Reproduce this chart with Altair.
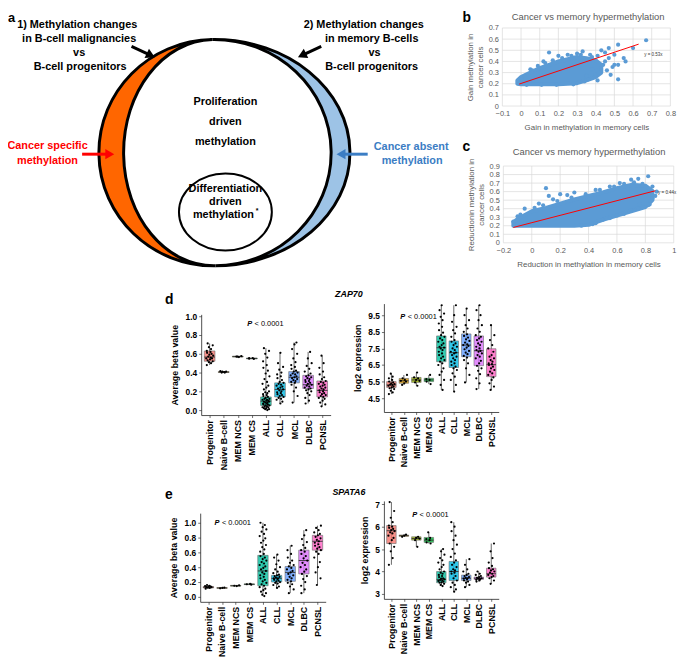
import altair as alt
import pandas as pd

# ---------------------------------------------------------------- data
CATS = ["Progenitor", "Naive B-cell", "MEM NCS", "MEM CS", "ALL", "CLL", "MCL", "DLBC", "PCNSL"]

# d (ZAP70) average beta value
D_BETA_Q1 = [0.52, 0.40, 0.565, 0.545, 0.05, 0.14, 0.29, 0.23, 0.14]
D_BETA_MED = [0.565, 0.405, 0.57, 0.55, 0.095, 0.22, 0.35, 0.27, 0.21]
D_BETA_Q3 = [0.63, 0.41, 0.575, 0.555, 0.14, 0.29, 0.41, 0.37, 0.31]
D_BETA_PTS = [
    [0.48, 0.50, 0.51, 0.52, 0.53, 0.54, 0.55, 0.55, 0.56, 0.57, 0.58, 0.59, 0.60, 0.61, 0.62, 0.63, 0.65, 0.67, 0.69, 0.71],
    [0.40, 0.405, 0.41, 0.415, 0.40, 0.41],
    [0.565, 0.57, 0.575, 0.57],
    [0.545, 0.55, 0.555, 0.55],
    [0.00, 0.01, 0.01, 0.02, 0.02, 0.03, 0.03, 0.04, 0.04, 0.05, 0.05, 0.06, 0.06, 0.07, 0.07, 0.08, 0.08, 0.09, 0.09,
     0.10, 0.10, 0.11, 0.11, 0.12, 0.12, 0.13, 0.14, 0.15, 0.16, 0.17, 0.18, 0.19, 0.20, 0.22, 0.24, 0.26, 0.28, 0.30,
     0.33, 0.36, 0.39, 0.42, 0.45, 0.48, 0.52, 0.56, 0.60, 0.63, 0.66],
    [0.07, 0.09, 0.11, 0.12, 0.13, 0.14, 0.15, 0.16, 0.17, 0.18, 0.19, 0.20, 0.21, 0.22, 0.23, 0.24, 0.25, 0.26, 0.27,
     0.28, 0.29, 0.30, 0.32, 0.34, 0.36, 0.38, 0.40, 0.43, 0.46, 0.50, 0.61],
    [0.08, 0.15, 0.20, 0.24, 0.27, 0.29, 0.30, 0.31, 0.32, 0.33, 0.34, 0.35, 0.36, 0.37, 0.38, 0.39, 0.40, 0.41, 0.42,
     0.44, 0.46, 0.48, 0.51, 0.55, 0.60, 0.65, 0.70, 0.72],
    [0.07, 0.10, 0.13, 0.16, 0.18, 0.20, 0.21, 0.22, 0.23, 0.24, 0.25, 0.26, 0.27, 0.28, 0.29, 0.30, 0.31, 0.32, 0.33,
     0.34, 0.35, 0.36, 0.37, 0.39, 0.41, 0.44, 0.47, 0.50, 0.55, 0.62],
    [0.04, 0.06, 0.08, 0.10, 0.12, 0.13, 0.14, 0.15, 0.16, 0.17, 0.18, 0.19, 0.20, 0.21, 0.22, 0.23, 0.24, 0.25, 0.26,
     0.27, 0.28, 0.29, 0.30, 0.31, 0.33, 0.35, 0.38, 0.41, 0.45, 0.50, 0.58],
]
# d (ZAP70) log2 expression
D_EXPR_Q1 = [5.15, 5.40, 5.45, 5.50, 6.70, 6.35, 7.00, 6.46, 5.80]
D_EXPR_MED = [5.30, 5.55, 5.60, 5.60, 7.54, 7.24, 7.70, 7.36, 6.52]
D_EXPR_Q3 = [5.50, 5.69, 5.75, 5.70, 8.25, 7.95, 8.37, 8.25, 7.48]
D_EXPR_PTS = [
    [4.75, 4.85, 4.95, 5.05, 5.10, 5.15, 5.20, 5.25, 5.30, 5.32, 5.35, 5.40, 5.45, 5.50, 5.60, 5.70, 5.80, 5.98],
    [5.30, 5.40, 5.50, 5.55, 5.60, 5.70, 5.90],
    [5.25, 5.45, 5.55, 5.60, 5.70, 5.75, 6.05],
    [5.35, 5.50, 5.60, 5.65, 5.90],
    [5.0, 5.3, 5.6, 5.9, 6.1, 6.3, 6.5, 6.6, 6.7, 6.8, 6.9, 7.0, 7.1, 7.2, 7.3, 7.4, 7.5, 7.55, 7.6, 7.7, 7.8, 7.9, 8.0,
     8.1, 8.2, 8.3, 8.45, 8.6, 8.8, 9.0, 9.2, 9.4, 9.6, 9.8, 10.1],
    [4.9, 5.3, 5.6, 5.8, 6.0, 6.2, 6.3, 6.4, 6.5, 6.6, 6.7, 6.8, 6.9, 7.0, 7.1, 7.2, 7.25, 7.3, 7.4, 7.5, 7.6, 7.7, 7.8,
     7.9, 8.0, 8.2, 8.4, 8.6, 8.8, 9.1, 9.5, 10.1],
    [5.45, 5.9, 6.3, 6.6, 6.8, 6.95, 7.05, 7.15, 7.25, 7.35, 7.45, 7.55, 7.65, 7.7, 7.75, 7.85, 7.95, 8.05, 8.15, 8.25,
     8.35, 8.5, 8.7, 8.9, 9.2, 9.5, 9.9],
    [5.05, 5.4, 5.7, 5.95, 6.15, 6.3, 6.45, 6.6, 6.75, 6.9, 7.0, 7.1, 7.2, 7.3, 7.35, 7.4, 7.5, 7.6, 7.7, 7.8, 7.9, 8.0,
     8.1, 8.2, 8.3, 8.5, 8.7, 8.9, 9.2, 9.5, 9.8, 10.1],
    [5.0, 5.2, 5.4, 5.6, 5.75, 5.9, 6.0, 6.1, 6.2, 6.3, 6.4, 6.5, 6.55, 6.6, 6.7, 6.8, 6.9, 7.0, 7.1, 7.3, 7.5, 7.7,
     8.0, 8.3, 8.9],
]
# e (SPATA6) average beta value
E_BETA_Q1 = [0.12, 0.115, 0.145, 0.165, 0.15, 0.20, 0.21, 0.31, 0.63]
E_BETA_MED = [0.13, 0.12, 0.15, 0.17, 0.35, 0.25, 0.33, 0.49, 0.75]
E_BETA_Q3 = [0.14, 0.125, 0.155, 0.175, 0.56, 0.29, 0.41, 0.63, 0.83]
E_BETA_PTS = [
    [0.11, 0.12, 0.125, 0.13, 0.13, 0.135, 0.14, 0.145, 0.15, 0.16],
    [0.115, 0.12, 0.125],
    [0.145, 0.15, 0.155],
    [0.165, 0.17, 0.175],
    [0.01, 0.03, 0.05, 0.07, 0.09, 0.11, 0.13, 0.15, 0.17, 0.19, 0.21, 0.23, 0.25, 0.27, 0.29, 0.31, 0.33, 0.35, 0.37,
     0.39, 0.41, 0.43, 0.45, 0.47, 0.49, 0.51, 0.53, 0.55, 0.58, 0.61, 0.64, 0.67, 0.70, 0.73, 0.76, 0.79, 0.82, 0.85,
     0.88, 0.91, 0.94, 0.97, 1.0],
    [0.12, 0.14, 0.16, 0.18, 0.19, 0.20, 0.21, 0.22, 0.23, 0.24, 0.25, 0.25, 0.26, 0.27, 0.28, 0.29, 0.30, 0.32, 0.34,
     0.37, 0.40, 0.44, 0.49, 0.53, 0.57],
    [0.05, 0.10, 0.14, 0.17, 0.19, 0.21, 0.23, 0.25, 0.27, 0.29, 0.31, 0.33, 0.35, 0.37, 0.39, 0.41, 0.43, 0.46, 0.49,
     0.53, 0.58, 0.63, 0.69],
    [0.05, 0.10, 0.15, 0.20, 0.24, 0.28, 0.31, 0.34, 0.37, 0.40, 0.43, 0.46, 0.49, 0.52, 0.55, 0.58, 0.61, 0.63, 0.66,
     0.70, 0.74, 0.78, 0.83, 0.90],
    [0.16, 0.25, 0.33, 0.40, 0.47, 0.53, 0.58, 0.61, 0.63, 0.65, 0.67, 0.69, 0.71, 0.73, 0.75, 0.77, 0.79, 0.81, 0.83,
     0.85, 0.87, 0.90, 0.93, 0.96],
]
# e (SPATA6) log2 expression
E_EXPR_Q1 = [5.25, 5.57, 5.40, 5.30, 3.50, 3.60, 3.60, 3.65, 3.75]
E_EXPR_MED = [5.82, 5.60, 5.47, 5.40, 3.65, 4.00, 3.70, 3.70, 3.90]
E_EXPR_Q3 = [6.05, 5.63, 5.55, 5.52, 4.00, 4.45, 3.84, 3.75, 4.15]
E_EXPR_PTS = [
    [4.3, 4.6, 4.9, 5.1, 5.25, 5.4, 5.5, 5.6, 5.7, 5.75, 5.8, 5.85, 5.9, 5.95, 6.0, 6.05, 6.2, 6.4, 6.7, 7.1],
    [5.55, 5.6, 5.65],
    [5.1, 5.4, 5.47, 5.5, 5.55],
    [5.25, 5.3, 5.4, 5.45, 5.5, 5.75],
    [3.35, 3.4, 3.45, 3.5, 3.52, 3.55, 3.58, 3.6, 3.62, 3.65, 3.68, 3.7, 3.75, 3.8, 3.85, 3.9, 3.95, 4.0, 4.1, 4.2,
     4.3, 4.4, 4.5, 4.6, 4.75, 4.9, 5.0],
    [3.1, 3.2, 3.3, 3.4, 3.5, 3.6, 3.7, 3.8, 3.9, 3.95, 4.0, 4.05, 4.1, 4.2, 4.3, 4.4, 4.5, 4.65, 4.8, 5.0, 5.2, 5.4,
     5.6, 5.8, 6.0, 6.2],
    [3.3, 3.4, 3.5, 3.55, 3.6, 3.65, 3.68, 3.7, 3.72, 3.75, 3.8, 3.85, 3.9, 4.0, 4.1, 4.3, 4.55],
    [3.55, 3.6, 3.63, 3.66, 3.68, 3.7, 3.72, 3.75, 3.8, 3.85, 3.9, 4.0],
    [3.45, 3.6, 3.7, 3.75, 3.8, 3.85, 3.9, 3.95, 4.0, 4.05, 4.1, 4.15, 4.25, 4.4, 4.6, 4.9, 5.25],
]

# b: gain in methylation (memory vs cancer); dense core envelope + sparse points
B_ENV_X = [-0.02, 0.0, 0.05, 0.10, 0.15, 0.20, 0.25, 0.30, 0.35, 0.40, 0.43]
B_ENV_LO = [0.20, 0.195, 0.195, 0.195, 0.195, 0.195, 0.20, 0.205, 0.23, 0.26, 0.30]
B_ENV_HI = [0.23, 0.26, 0.30, 0.34, 0.37, 0.40, 0.42, 0.44, 0.43, 0.41, 0.37]
B_PT_X = [0.15, 0.43, 0.45, 0.47, 0.52, 0.50, 0.55, 0.56, 0.50, 0.52, 0.47, 0.41, 0.44, 0.38, 0.42, 0.46, 0.48, 0.52,
          0.67, 0.60, 0.36, 0.40, 0.30, 0.33, 0.25, 0.20, 0.12, 0.05, 0.35, 0.41, 0.38, 0.0, 0.02,
          0.06, 0.09, 0.13, 0.17, 0.22, 0.27, 0.32, 0.37, 0.03, 0.11, 0.19, 0.28, 0.34, 0.45, 0.49]
B_PT_Y = [0.48, 0.50, 0.48, 0.52, 0.55, 0.46, 0.43, 0.40, 0.37, 0.37, 0.43, 0.45, 0.37, 0.33, 0.30, 0.32, 0.28, 0.24,
          0.59, 0.52, 0.24, 0.28, 0.47, 0.49, 0.46, 0.45, 0.40, 0.33, 0.27, 0.23, 0.44, 0.24, 0.27,
          0.32, 0.36, 0.385, 0.41, 0.43, 0.45, 0.46, 0.46, 0.19, 0.19, 0.19, 0.195, 0.22, 0.40, 0.35]
B_FIT_X = [-0.01, 0.63]
B_FIT_Y = [0.197, 0.555]
B_XTICKS = [-0.1, 0.0, 0.1, 0.2, 0.3, 0.4, 0.5, 0.6, 0.7, 0.8]
B_YTICKS = [0.0, 0.1, 0.2, 0.3, 0.4, 0.5, 0.6, 0.7]

# c: reduction in methylation
C_ENV_X = [-0.13, -0.1, 0.0, 0.1, 0.2, 0.3, 0.4, 0.5, 0.6, 0.7, 0.8, 0.85]
C_ENV_LO = [0.20, 0.20, 0.20, 0.20, 0.20, 0.20, 0.21, 0.27, 0.32, 0.37, 0.42, 0.50]
C_ENV_HI = [0.24, 0.28, 0.37, 0.41, 0.46, 0.51, 0.55, 0.59, 0.64, 0.68, 0.67, 0.61]
C_PT_X = [-0.10, -0.05, 0.05, 0.10, 0.15, 0.25, 0.30, 0.45, 0.55, 0.62, 0.70, 0.75, 0.82, 0.85, 0.88, 0.85, 0.83,
          0.87, 0.78, 0.70, 0.60, 0.50, 0.43, 0.35, -0.13, -0.10, 0.66, 0.76, 0.12, 0.20,
          -0.08, 0.02, 0.08, 0.18, 0.28, 0.38, 0.48, 0.58, 0.65, 0.72, 0.78, 0.45, 0.55, 0.65, 0.75, 0.82]
C_PT_Y = [0.31, 0.40, 0.46, 0.64, 0.51, 0.56, 0.59, 0.62, 0.66, 0.70, 0.74, 0.75, 0.78, 0.66, 0.60, 0.52, 0.45,
          0.55, 0.42, 0.38, 0.32, 0.27, 0.22, 0.20, 0.25, 0.22, 0.36, 0.45, 0.55, 0.57,
          0.33, 0.41, 0.44, 0.49, 0.53, 0.57, 0.62, 0.66, 0.69, 0.71, 0.69, 0.23, 0.29, 0.34, 0.40, 0.44]
C_FIT_X = [-0.13, 0.87]
C_FIT_Y = [0.18, 0.61]
C_XTICKS = [-0.2, 0.0, 0.2, 0.4, 0.6, 0.8, 1.0]
C_YTICKS = [0.0, 0.1, 0.2, 0.3, 0.4, 0.5, 0.6, 0.7, 0.8, 0.9]

# texts
HDR_TEXT = ["1) Methylation changes", "in B-cell malignancies", "vs", "B-cell progenitors",
            "2) Methylation changes", "in memory B-cells", "vs", "B-cell progenitors",
            "Proliferation", "driven", "methylation", "Differentiation", "driven", "methylation"]
RED_TEXT = ["Cancer specific", "methylation"]
BLUE_TEXT = ["Cancer absent", "methylation"]
LETTERS = ["a", "b", "c", "d", "e"]
GENES = ["ZAP70", "SPATA6"]
SC_TITLE = "Cancer vs memory hypermethylation"

# ---------------------------------------------------------------- layout / style
FONT = "Liberation Sans"
W, H, M = 677, 656, 8
PALETTE = ["#F8766D", "#D39200", "#93AA00", "#00BA38", "#00C19F", "#00B9E3", "#619CFF", "#DB72FB", "#FF61C3"]
JIT = [-0.20, 0.10, -0.05, 0.22, -0.14, 0.03, 0.17, -0.24, 0.08, -0.10, 0.25, -0.02, 0.14, -0.18, 0.06]

HDR_X = [78, 80, 80, 81, 368, 376, 379, 376, 228, 228, 228, 228, 228, 226]
HDR_Y = [21, 35, 50, 64, 21, 35, 50, 64, 99, 119, 140, 187, 200, 214]
RED_XY = ([48, 48], [144, 159])
BLUE_XY = ([416, 417], [145, 159])
LET_XY = ([8, 468, 468, 167, 167], [14, 14, 145, 300, 497])
LET_SIZE = [13, 14, 14, 14, 14]
GENE_XY = ([353, 353], [294, 494])
SCT_XY = ([595, 596], [13, 150])
PV_XY = ([268, 423, 235, 435], [324, 317, 525, 517])


def PXS():
    return alt.Scale(domain=[0, 685], range=[-M, 685 - M], nice=False, zero=False)


def PYS():
    return alt.Scale(domain=[0, 664], range=[-M, 664 - M], nice=False, zero=False)


def sc(dom, a, b):
    return alt.Scale(domain=dom, range=[a - M, b - M], nice=False, zero=False)


def text_layer(texts, xs, ys, **kw):
    df = pd.DataFrame({"t": texts, "px": xs, "py": ys})
    return alt.Chart(df).mark_text(font=FONT, **kw).encode(
        x=alt.X("px:Q", scale=PXS(), axis=None),
        y=alt.Y("py:Q", scale=PYS(), axis=None),
        text="t:N")


def point_layer(xs, ys, **kw):
    df = pd.DataFrame({"px": xs, "py": ys})
    return alt.Chart(df).mark_point(**kw).encode(
        x=alt.X("px:Q", scale=PXS(), axis=None),
        y=alt.Y("py:Q", scale=PYS(), axis=None))


def seg_layer(x1, y1, x2, y2, **kw):
    df = pd.DataFrame({"px": x1, "py": y1, "px2": x2, "py2": y2})
    return alt.Chart(df).mark_rule(**kw).encode(
        x=alt.X("px:Q", scale=PXS(), axis=None),
        y=alt.Y("py:Q", scale=PYS(), axis=None),
        x2="px2:Q", y2="py2:Q")


# ---------------------------------------------------------------- panel a (diagram)
ORANGE_PATH = "M -1.5 -114.5 A 116.5 114.5 0 0 0 1.5 114.5 A 91.5 114.5 0 0 1 -1.5 -114.5 Z"
BLUE_PATH = "M -1.5 -114.5 A 137.5 114.5 0 0 1 1.5 114.5 A 118.5 114.5 0 0 0 -1.5 -114.5 Z"
INNER_PATH = "M -47 0 A 47 39 0 1 0 47 0 A 47 39 0 1 0 -47 0 Z"

letters_df = pd.DataFrame({"t": LETTERS, "px": LET_XY[0], "py": LET_XY[1], "fs": LET_SIZE})
letters = alt.Chart(letters_df).mark_text(
    font=FONT, fontWeight="bold", color="black", baseline="middle", align="left").encode(
    x=alt.X("px:Q", scale=PXS(), axis=None), y=alt.Y("py:Q", scale=PYS(), axis=None),
    text="t:N", size=alt.Size("fs:Q", scale=None, legend=None))

diagram = alt.layer(
    point_layer([216.5], [150.5], shape=ORANGE_PATH, size=4, filled=True, fill="#FF6600",
                stroke="black", strokeWidth=3, opacity=1),
    point_layer([216.5], [150.5], shape=BLUE_PATH, size=4, filled=True, fill="#9DC3E6",
                stroke="black", strokeWidth=3, opacity=1),
    point_layer([228], [210.5], shape=INNER_PATH, size=4, filled=True, fill="white",
                stroke="black", strokeWidth=2, opacity=1),
    seg_layer([133, 325], [43, 43], [152.5, 305.5], [52, 52], color="black", strokeWidth=3),
    point_layer([152.5], [52], shape="triangle-right", angle=25.6, size=110, filled=True,
                color="black", opacity=1),
    point_layer([305.5], [52], shape="triangle-left", angle=334.4, size=110, filled=True,
                color="black", opacity=1),
    seg_layer([83], [152], [111], [152], color="#FF0000", strokeWidth=3),
    point_layer([111], [152], shape="triangle-right", size=110, filled=True, color="#FF0000", opacity=1),
    seg_layer([372], [152], [345], [152], color="#3B7DC4", strokeWidth=3),
    point_layer([345], [152], shape="triangle-left", size=110, filled=True, color="#3B7DC4", opacity=1),
    text_layer(HDR_TEXT, HDR_X, HDR_Y, fontSize=11, fontWeight="bold", color="black", baseline="middle"),
    text_layer(["*"], [260], [210], fontSize=7, fontWeight="bold", color="black", baseline="middle"),
    text_layer(RED_TEXT, *RED_XY, fontSize=11, fontWeight="bold", color="#FF0000", baseline="middle"),
    text_layer(BLUE_TEXT, *BLUE_XY, fontSize=11, fontWeight="bold", color="#3B7DC4", baseline="middle"),
    letters,
    text_layer(GENES, *GENE_XY, fontSize=9, fontWeight="bold", fontStyle="italic", color="black",
               baseline="middle"),
    text_layer([SC_TITLE, SC_TITLE], *SCT_XY, fontSize=9.5, color="#595959", baseline="middle"),
    text_layer(["P"] * 4, [x - 18 for x in PV_XY[0]], PV_XY[1], fontSize=7.5, fontStyle="italic",
               fontWeight="bold", color="black", baseline="middle", align="left"),
    text_layer(["< 0.0001"] * 4, [x - 10.5 for x in PV_XY[0]], PV_XY[1], fontSize=7.5,
               color="black", baseline="middle", align="left"),
)


# ---------------------------------------------------------------- box panels
def box_panel(q1, med, q3, pts, ydom, ypx, xpx, yvals, yfmt, ytitle, tpad):
    n = len(CATS)
    bdf = pd.DataFrame({"i": list(range(n)), "cat": CATS, "q1": q1, "med": med, "q3": q3})
    rows = []
    for i, vals in enumerate(pts):
        for j, v in enumerate(vals):
            rows.append({"i": i, "cat": CATS[i], "v": v, "xj": i + JIT[(j + 4 * i) % len(JIT)]})
    pdf = pd.DataFrame(rows)
    xs = sc([-0.6, 8.6], *xpx)
    ys = sc(ydom, *ypx)
    label_expr = "[" + ",".join("'%s'" % c for c in CATS) + "][datum.value]"
    xax = alt.Axis(orient="bottom", offset=ypx[0] - M - H, values=list(range(n)), labelExpr=label_expr,
                   labelAngle=270, labelAlign="right", labelBaseline="middle", labelPadding=2,
                   labelFont=FONT, labelFontSize=9, labelFontWeight="bold", labelColor="black",
                   labelOverlap=False, labelFlush=False, domainColor="#222", domainWidth=0.8,
                   tickColor="#333", tickSize=2.5, tickWidth=0.7, grid=False, title=None)
    yax = alt.Axis(orient="left", offset=-(xpx[0] - M), values=yvals, format=yfmt,
                   labelFont=FONT, labelFontSize=8.5, labelFontWeight="bold", labelColor="black",
                   labelPadding=2, labelOverlap=False, labelFlush=False, domainColor="#222",
                   domainWidth=0.8, tickColor="#333", tickSize=2.5, tickWidth=0.7, grid=False,
                   title=ytitle, titleFont=FONT, titleFontSize=9, titleFontWeight="bold",
                   titleColor="black", titlePadding=tpad)
    color = alt.Color("cat:N", scale=alt.Scale(domain=CATS, range=PALETTE), legend=None)
    whisk = alt.Chart(pdf).mark_rule(color="black", strokeWidth=0.6).encode(
        x=alt.X("i:Q", scale=xs, axis=xax), y=alt.Y("min(v):Q", scale=ys, axis=yax), y2="max(v):Q")
    box = alt.Chart(bdf).transform_calculate(x0="datum.i - 0.38", x1="datum.i + 0.38").mark_bar(
        fillOpacity=0.8, stroke="#6a6a6a", strokeWidth=0.6).encode(
        x=alt.X("x0:Q", scale=xs, axis=xax), x2="x1:Q",
        y=alt.Y("q1:Q", scale=ys, axis=yax), y2="q3:Q", color=color)
    medl = alt.Chart(bdf).transform_calculate(x0="datum.i - 0.38", x1="datum.i + 0.38").mark_rule(
        color="#333333", strokeWidth=0.9).encode(
        x=alt.X("x0:Q", scale=xs, axis=xax), x2="x1:Q", y=alt.Y("med:Q", scale=ys, axis=yax))
    dots = alt.Chart(pdf).mark_circle(size=5, color="black", opacity=1).encode(
        x=alt.X("xj:Q", scale=xs, axis=xax), y=alt.Y("v:Q", scale=ys, axis=yax))
    return alt.layer(whisk, box, medl, dots)


BETA_TICKS = [0.0, 0.2, 0.4, 0.6, 0.8, 1.0]
d_left = box_panel(D_BETA_Q1, D_BETA_MED, D_BETA_Q3, D_BETA_PTS, [-0.053, 1.02], (416, 314.1),
                   (203.5, 334.5), BETA_TICKS, ".1f", "Average beta value", 6)
d_right = box_panel(D_EXPR_Q1, D_EXPR_MED, D_EXPR_Q3, D_EXPR_PTS, [3.67, 10.2], (412.9, 303.2),
                    (388.4, 504.6), [4.5, 5.5, 6.5, 7.5, 8.5, 9.5], ".1f", "log2 expression", 5)
e_left = box_panel(E_BETA_Q1, E_BETA_MED, E_BETA_Q3, E_BETA_PTS, [-0.067, 1.13], (605, 515.25),
                   (202.5, 329.5), BETA_TICKS, ".1f", "Average beta value", 6)
e_right = box_panel(E_EXPR_Q1, E_EXPR_MED, E_EXPR_Q3, E_EXPR_PTS, [2.78, 7.15], (602, 502.9),
                    (388.4, 504.6), [3, 4, 5, 6, 7], "d", "log2 expression", 5)


# ---------------------------------------------------------------- scatter panels
def scatter_panel(ex, elo, ehi, px_, py_, fx, fy, xdom, ydom, xpx, ypx, xt, yt, xtitle, ytitle, eq, eqpos):
    xs = sc(xdom, *xpx)
    ys = sc(ydom, *ypx)
    common = dict(labelFont=FONT, labelFontSize=7.5, labelColor="#595959", labelFlush=False,
                  labelOverlap=False, domain=False, ticks=False, grid=False, titleFont=FONT,
                  titleFontSize=8, titleFontWeight="normal", titleColor="#595959")
    xax = alt.Axis(orient="bottom", offset=ypx[0] - M - H, values=xt, format="~g", labelPadding=4,
                   title=xtitle, titlePadding=6, **common)
    yax = alt.Axis(orient="left", offset=-(xpx[0] - M), values=yt, format="~g", labelPadding=4,
                   title=ytitle, titlePadding=4, **common)
    vgrid = alt.Chart(pd.DataFrame({"t": xt})).mark_rule(color="#D9D9D9", strokeWidth=0.7).encode(
        x=alt.X("t:Q", scale=xs, axis=xax),
        y=alt.YDatum(ydom[0], scale=ys, axis=yax), y2=alt.Y2Datum(ydom[1]))
    hgrid = alt.Chart(pd.DataFrame({"t": yt})).mark_rule(color="#D9D9D9", strokeWidth=0.7).encode(
        y=alt.Y("t:Q", scale=ys, axis=yax),
        x=alt.XDatum(xdom[0], scale=xs, axis=xax), x2=alt.X2Datum(xdom[1]))
    core = alt.Chart(pd.DataFrame({"x": ex, "lo": elo, "hi": ehi})).mark_area(
        color="#5B9BD5", stroke="#5B9BD5", strokeWidth=4, strokeJoin="round", opacity=1).encode(
        x=alt.X("x:Q", scale=xs, axis=xax), y=alt.Y("lo:Q", scale=ys, axis=yax), y2="hi:Q")
    pts = alt.Chart(pd.DataFrame({"x": px_, "y": py_})).mark_circle(
        size=18, color="#5B9BD5", opacity=1).encode(
        x=alt.X("x:Q", scale=xs, axis=xax), y=alt.Y("y:Q", scale=ys, axis=yax))
    fit = alt.Chart(pd.DataFrame({"x": fx, "y": fy})).mark_line(color="#FF0000", strokeWidth=1).encode(
        x=alt.X("x:Q", scale=xs, axis=xax), y=alt.Y("y:Q", scale=ys, axis=yax))
    lab = alt.Chart(pd.DataFrame({"t": [eq]})).mark_text(
        font=FONT, fontSize=4.5, color="#333333", align="left", baseline="middle").encode(
        x=alt.XDatum(eqpos[0], scale=xs, axis=xax), y=alt.YDatum(eqpos[1], scale=ys, axis=yax), text="t:N")
    return alt.layer(vgrid, hgrid, core, pts, fit, lab)


panel_b = scatter_panel(B_ENV_X, B_ENV_LO, B_ENV_HI, B_PT_X, B_PT_Y, B_FIT_X, B_FIT_Y,
                        [-0.1, 0.8], [0.0, 0.7], (508.3, 678.3), (103.3, 24.3), B_XTICKS, B_YTICKS,
                        "Gain in methylation in memory cells", ["Gain methylation in", "cancer cells"],
                        "y = 0.53x", (0.66, 0.46))
panel_c = scatter_panel(C_ENV_X, C_ENV_LO, C_ENV_HI, C_PT_X, C_PT_Y, C_FIT_X, C_FIT_Y,
                        [-0.2, 1.0], [0.0, 0.9], (509.3, 681.7), (241.7, 164.0), C_XTICKS, C_YTICKS,
                        "Reduction in methylation in memory cells",
                        ["Reductionin methylation in", "cancer cells"], "y = 0.44x", (0.89, 0.58))

chart = alt.layer(diagram, panel_b, panel_c, d_left, d_right, e_left, e_right).resolve_scale(
    x="independent", y="independent"
).properties(
    width=W, height=H, autosize=alt.AutoSizeParams(type="none"), padding=0, background="white"
).configure_view(stroke=None)

chart.save("out.html", embed_options={"renderer": "svg", "actions": False})
